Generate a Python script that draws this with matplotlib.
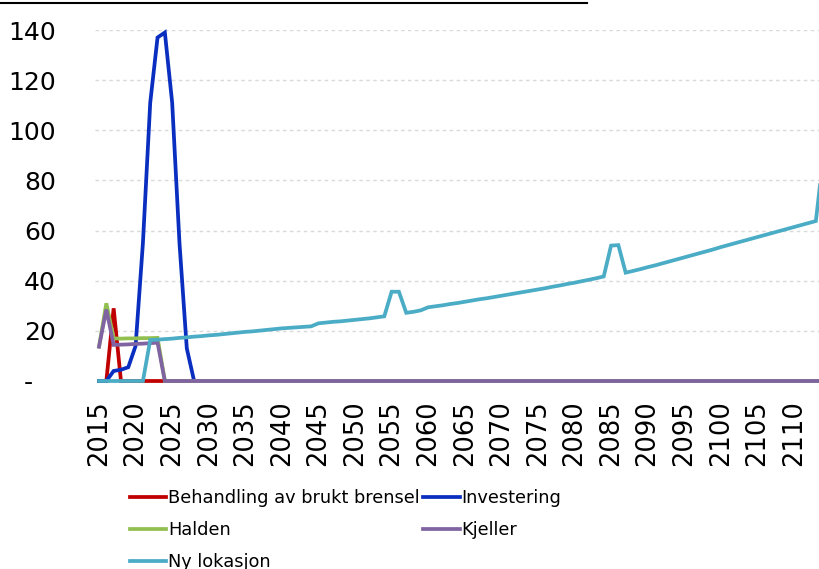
import numpy as np
import matplotlib
matplotlib.use("Agg")
from matplotlib import pyplot as plt
from matplotlib.lines import Line2D
from matplotlib.transforms import ScaledTranslation

plt.rcParams['font.family'] = ['DejaVu Sans']

years = np.arange(2015, 2115)

# yearly cost per alternative
behandling = [0, 0, 29, 0] + [0] * 96
investering = [0, 0, 4, 4.5, 5.5, 14, 55, 111, 137, 139, 111, 55, 13, 0] + [0] * 86
halden = [13.7, 31, 17, 16.9, 17, 17, 17.1, 17.1, 17.2, 0] + [0] * 90
kjeller = [13.7, 28.5, 14.4, 14.5, 14.6, 14.8, 14.9, 15.1, 15.3, 0] + [0] * 90
ny_lokasjon = [
    0, 0, 0, 0, 0, 0, 0, 16.3, 16.5, 16.7,                  # 2015-2024
    16.9, 17.2, 17.4, 17.7, 17.9, 18.2, 18.4, 18.7, 19.0, 19.3,  # 2025-2034
    19.6, 19.8, 20.1, 20.4, 20.7, 21.0, 21.2, 21.4, 21.6, 21.8,  # 2035-2044
    23.0, 23.3, 23.6, 23.8, 24.1, 24.4, 24.7, 25.0, 25.4, 25.8,  # 2045-2054
    35.6, 35.6, 27.2, 27.6, 28.2, 29.4, 29.8, 30.2, 30.7, 31.1,  # 2055-2064
    31.6, 32.1, 32.6, 33.0, 33.5, 34.0, 34.5, 35.0, 35.5, 36.0,  # 2065-2074
    36.5, 37.0, 37.6, 38.1, 38.7, 39.2, 39.8, 40.4, 41.0, 41.7,  # 2075-2084
    54.0, 54.2, 43.2, 43.9, 44.6, 45.4, 46.1, 46.9, 47.7, 48.5,  # 2085-2094
    49.3, 50.1, 50.9, 51.7, 52.5, 53.4, 54.2, 55.0, 55.8, 56.6,  # 2095-2104
    57.4, 58.2, 59.0, 59.8, 60.6, 61.4, 62.2, 63.0, 63.8, 89.0,  # 2105-2114
]

series = [
    ("Behandling av brukt brensel", behandling, "#C00000"),
    ("Investering", investering, "#0A2FC0"),
    ("Halden", halden, "#92C050"),
    ("Kjeller", kjeller, "#8064A2"),
    ("Ny lokasjon", ny_lokasjon, "#4BACC6"),
]

y_ticks = [0, 20, 40, 60, 80, 100, 120, 140]
y_labels = ["-", "20", "40", "60", "80", "100", "120", "140"]
x_ticks = list(range(2015, 2111, 5))

W, H = 819, 569
fig = plt.figure(figsize=(W / 100, H / 100), dpi=100)
ax = fig.add_axes([95 / W, 188 / H, 724 / W, 351 / H])

lines = {}
for name, vals, color in series:
    (ln,) = ax.plot(years, vals, color=color, linewidth=2.7, label=name,
                    solid_joinstyle="miter", clip_on=False)
    lines[name] = ln

ax.set_xlim(2014.45, 2113.43)
ax.set_ylim(0, 140)

for s in ax.spines.values():
    s.set_visible(False)

ax.set_yticks(y_ticks)
ax.set_yticklabels(y_labels, fontsize=18)
ax.set_xticks(x_ticks)
ax.set_xticklabels([str(y) for y in x_ticks], fontsize=18.5, rotation=90)
ax.tick_params(axis="y", length=0, pad=28)
ax.tick_params(axis="x", length=0, pad=14)

# dash for zero sits further left, accounting style
zero_lbl = ax.yaxis.get_major_ticks()[0].label1
zero_lbl.set_transform(zero_lbl.get_transform() +
                       ScaledTranslation(-23 / 100, 0, fig.dpi_scale_trans))

ax.yaxis.grid(True, color="#D9D9D9", linestyle=(0, (2.5, 2.5)), linewidth=1)
ax.set_axisbelow(True)

order = ["Behandling av brukt brensel", "Halden", "Ny lokasjon",
         "Investering", "Kjeller"]
fig.legend([lines[n] for n in order], order, loc="upper left",
           bbox_to_anchor=(130 / W, 1 - 489 / H), ncol=2, frameon=False,
           fontsize=12.8, borderpad=0, borderaxespad=0, handlelength=2.05,
           handletextpad=0.1, columnspacing=0.2, labelspacing=0.8)

# rule under the heading
fig.add_artist(Line2D([0, 587 / W], [1 - 2.5 / H] * 2,
                      transform=fig.transFigure, color="black", linewidth=1.5))

fig.savefig("out.png", dpi=100)
